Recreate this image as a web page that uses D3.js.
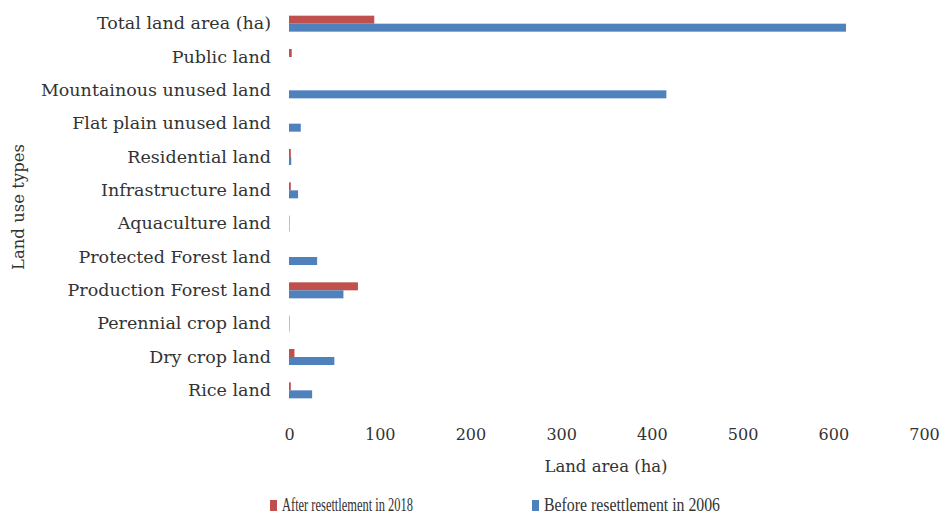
<!DOCTYPE html>
<html>
<head>
<meta charset="utf-8">
<script src="https://cdn.jsdelivr.net/npm/d3@7"></script>
<style>
  html, body { margin: 0; padding: 0; background: #ffffff; }
  svg { display: block; }
  text { font-family: "DejaVu Serif", "Liberation Serif", serif; fill: #333333; }
</style>
</head>
<body>
<div id="chart"></div>
<script>
// Land use categories, top to bottom
const categories = [
  "Total land area (ha)",
  "Public land",
  "Mountainous unused land",
  "Flat plain unused land",
  "Residential land",
  "Infrastructure land",
  "Aquaculture land",
  "Protected Forest land",
  "Production Forest land",
  "Perennial crop land",
  "Dry crop land",
  "Rice land"
];

const seriesNames = ["After resettlement in 2018", "Before resettlement in 2006"];

// Land area in hectares for each category
const after2018  = [94, 3, 0, 0, 2, 2, 0.5, 0, 76, 0.5, 6, 2];
const before2006 = [614, 0, 416, 13, 2.5, 10, 0.5, 31, 60, 0.5, 50, 25.5];

const xTicks = [0, 100, 200, 300, 400, 500, 600, 700];

const colors = ["#C0504D", "#4F81BD"];

const width = 943, height = 520;
const margin = { left: 289, right: 19, top: 7, bottom: 113 };

const svg = d3.select("#chart").append("svg")
  .attr("width", width).attr("height", height);

const x = d3.scaleLinear()
  .domain([0, 700])
  .range([margin.left, width - margin.right]);

const y = d3.scaleBand()
  .domain(categories)
  .range([margin.top, height - margin.bottom])
  .paddingInner(0.52)
  .paddingOuter(0.26);

const ySub = d3.scaleBand()
  .domain(seriesNames)
  .range([0, y.bandwidth()]);

const rows = categories.map((c, i) => ({ cat: c, vals: [after2018[i], before2006[i]] }));

// Bars
const groups = svg.append("g").selectAll("g")
  .data(rows).join("g")
  .attr("transform", d => `translate(0,${y(d.cat)})`);

groups.selectAll("rect")
  .data(d => d.vals.map((v, k) => ({ v, k })))
  .join("rect")
  .attr("x", x(0))
  .attr("y", d => ySub(seriesNames[d.k]))
  .attr("width", d => x(d.v) - x(0))
  .attr("height", ySub.bandwidth())
  .attr("fill", d => colors[d.k]);

// Category labels
const yAxis = d3.axisLeft(y).tickSize(0).tickPadding(18);
const gy = svg.append("g")
  .attr("transform", `translate(${margin.left},0)`)
  .call(yAxis);
gy.select(".domain").remove();
gy.selectAll("text")
  .style("font-family", "'DejaVu Serif', serif")
  .style("font-size", "17.5px")
  .attr("fill", "#333333");

// Value axis labels
const xAxis = d3.axisBottom(x).tickValues(xTicks).tickSize(0).tickPadding(0);
const gx = svg.append("g")
  .attr("transform", `translate(0,${height - margin.bottom + 22})`)
  .call(xAxis);
gx.select(".domain").remove();
gx.selectAll("text")
  .style("font-family", "'DejaVu Serif', serif")
  .style("font-size", "16px")
  .attr("fill", "#333333");

// Axis titles
svg.append("text")
  .attr("x", 606).attr("y", 472)
  .attr("text-anchor", "middle")
  .style("font-size", "16.5px")
  .text("Land area (ha)");

svg.append("text")
  .attr("transform", "translate(24,207) rotate(-90)")
  .attr("text-anchor", "middle")
  .style("font-size", "16.5px")
  .text("Land use types");

// Legend
const legendItems = [
  { name: seriesNames[0], color: colors[0], x: 270, len: 131 },
  { name: seriesNames[1], color: colors[1], x: 532, len: 176 }
];
const lg = svg.append("g").selectAll("g")
  .data(legendItems).join("g")
  .attr("transform", d => `translate(${d.x},506)`);
lg.append("rect")
  .attr("x", 0).attr("y", -6)
  .attr("width", 7).attr("height", 11)
  .attr("fill", d => d.color);
lg.append("text")
  .attr("x", 12).attr("y", 1)
  .attr("dominant-baseline", "middle")
  .attr("textLength", d => d.len)
  .attr("lengthAdjust", "spacingAndGlyphs")
  .style("font-family", "'Liberation Serif', serif")
  .style("font-size", "19px")
  .text(d => d.name);
</script>
</body>
</html>
